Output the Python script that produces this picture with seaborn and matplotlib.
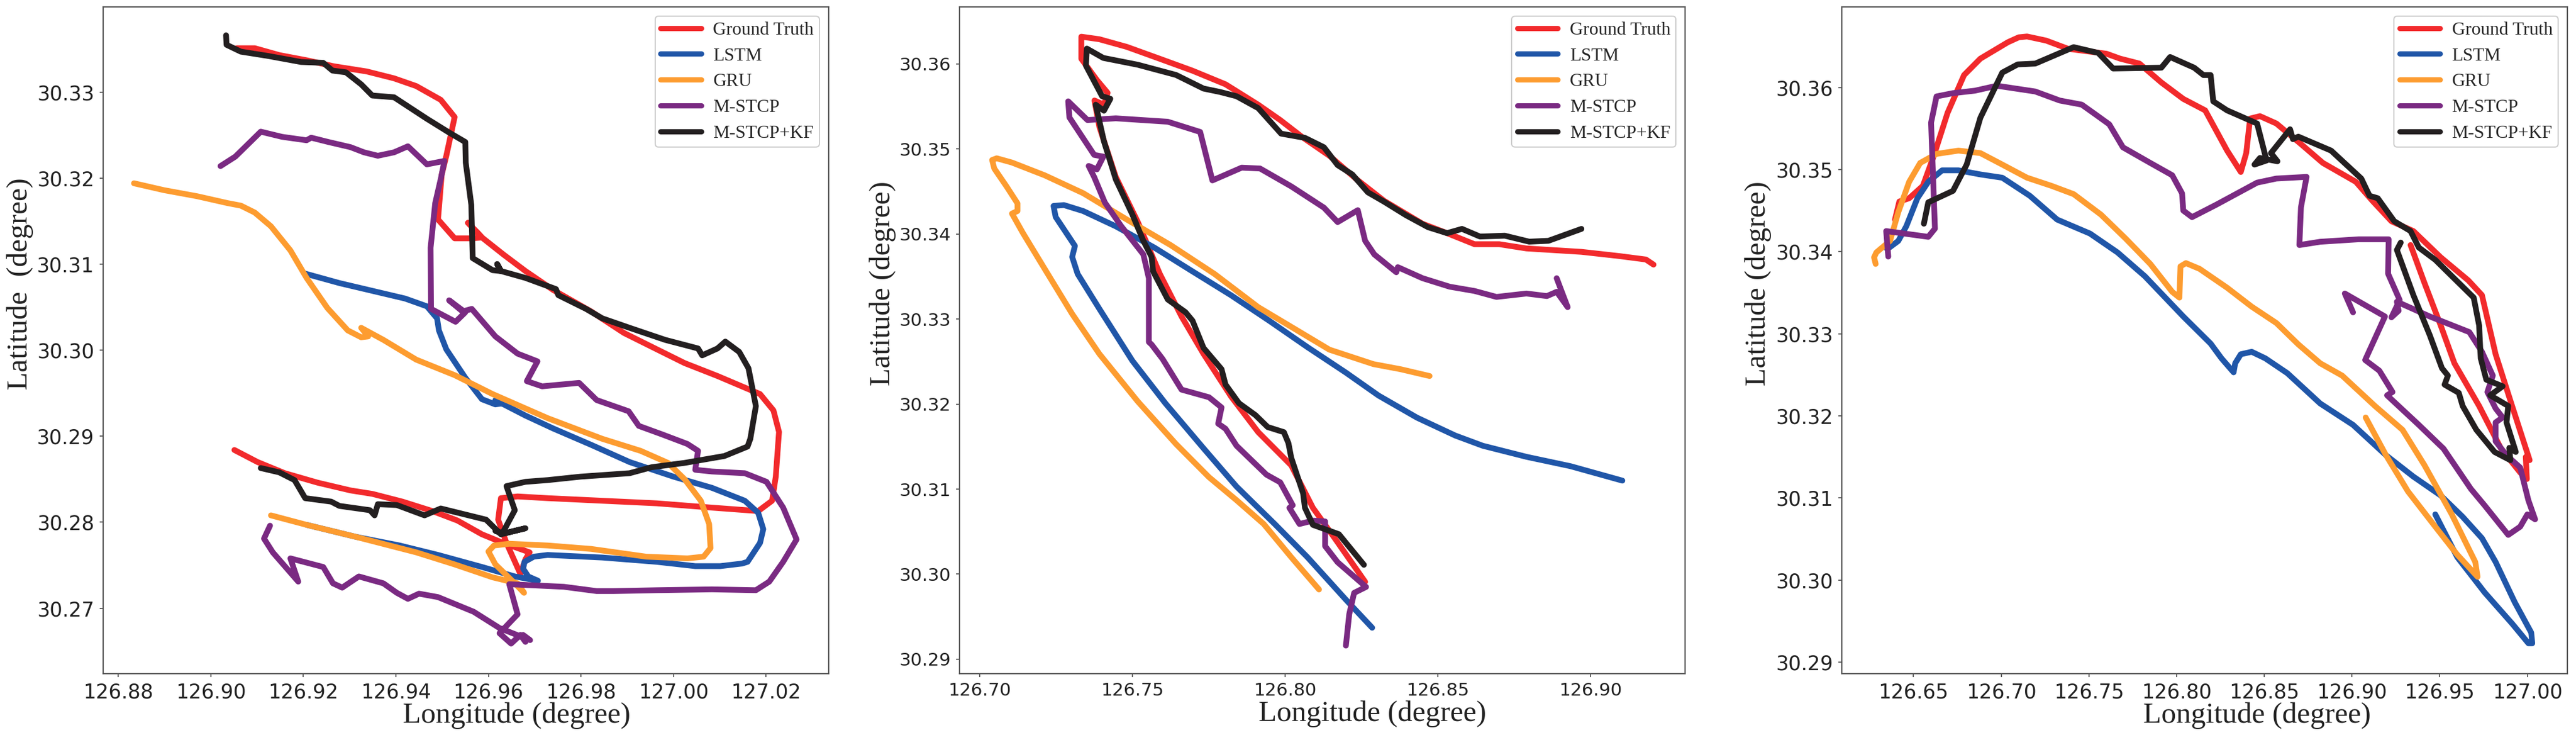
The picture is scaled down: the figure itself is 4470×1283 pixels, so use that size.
from matplotlib import pyplot as plt
from matplotlib.font_manager import FontProperties
import seaborn as sns

# --- left panel ---
p1_truth_lon = [126.9056, 126.9095, 126.9148, 126.9207, 126.9266, 126.9337, 126.9396, 126.9444, 126.9497, 126.9527, 126.9509, 126.9499, 126.9491, 126.9527, 126.9564, 126.9586, 126.9556, 126.9586, 126.9633, 126.9680, 126.9740, 126.9822, 126.9893, 126.9964, 127.0024, 127.0095, 127.0187, 127.0216, 127.0228, 127.0221, 127.0213, 127.0183, 127.0083, 126.9964, 126.9846, 126.9728, 126.9663, 126.9627, 126.9621, 126.9639, 126.9669, 126.9680, 126.9689, 126.9663, 126.9627, 126.9586, 126.9533, 126.9479, 126.9414, 126.9349, 126.9302, 126.9231, 126.9160, 126.9101, 126.9051]
p1_truth_lat = [30.3351, 30.3351, 30.3343, 30.3337, 30.3330, 30.3324, 30.3316, 30.3307, 30.3291, 30.3271, 30.3226, 30.3204, 30.3152, 30.3130, 30.3130, 30.3131, 30.3148, 30.3131, 30.3111, 30.3092, 30.3070, 30.3045, 30.3020, 30.3001, 30.2985, 30.2970, 30.2949, 30.2930, 30.2905, 30.2853, 30.2825, 30.2813, 30.2817, 30.2822, 30.2825, 30.2828, 30.2830, 30.2828, 30.2803, 30.2776, 30.2740, 30.2757, 30.2765, 30.2770, 30.2777, 30.2786, 30.2802, 30.2813, 30.2824, 30.2833, 30.2837, 30.2846, 30.2857, 30.2870, 30.2884]
p1_lstm_lon = [126.9204, 126.9278, 126.9349, 126.9420, 126.9467, 126.9489, 126.9493, 126.9509, 126.9550, 126.9586, 126.9615, 126.9627, 126.9615, 126.9680, 126.9740, 126.9822, 126.9905, 127.0000, 127.0083, 127.0154, 127.0183, 127.0194, 127.0187, 127.0160, 127.0148, 127.0101, 127.0047, 126.9964, 126.9846, 126.9728, 126.9698, 126.9678, 126.9675, 126.9686, 126.9707, 126.9657, 126.9586, 126.9491, 126.9408, 126.9314, 126.9207]
p1_lstm_lat = [30.3089, 30.3078, 30.3069, 30.3060, 30.3051, 30.3037, 30.3023, 30.3001, 30.2968, 30.2943, 30.2937, 30.2938, 30.2942, 30.2924, 30.2909, 30.2890, 30.2870, 30.2853, 30.2840, 30.2825, 30.2811, 30.2792, 30.2776, 30.2754, 30.2752, 30.2749, 30.2749, 30.2754, 30.2759, 30.2762, 30.2760, 30.2754, 30.2746, 30.2737, 30.2732, 30.2737, 30.2748, 30.2762, 30.2773, 30.2783, 30.2797]
p1_gru_lon = [126.8834, 126.8899, 126.8970, 126.9036, 126.9065, 126.9095, 126.9130, 126.9172, 126.9207, 126.9252, 126.9296, 126.9325, 126.9340, 126.9325, 126.9373, 126.9444, 126.9527, 126.9609, 126.9728, 126.9846, 126.9929, 126.9988, 127.0024, 127.0059, 127.0077, 127.0080, 127.0065, 127.0030, 126.9941, 126.9822, 126.9728, 126.9645, 126.9612, 126.9600, 126.9615, 126.9657, 126.9677, 126.9663, 126.9609, 126.9527, 126.9444, 126.9314, 126.9207, 126.9130]
p1_gru_lat = [30.3194, 30.3186, 30.3179, 30.3171, 30.3168, 30.3160, 30.3144, 30.3116, 30.3084, 30.3049, 30.3023, 30.3015, 30.3016, 30.3026, 30.3012, 30.2989, 30.2971, 30.2949, 30.2921, 30.2897, 30.2883, 30.2869, 30.2850, 30.2825, 30.2798, 30.2770, 30.2760, 30.2758, 30.2760, 30.2769, 30.2773, 30.2775, 30.2773, 30.2766, 30.2751, 30.2729, 30.2718, 30.2729, 30.2736, 30.2751, 30.2765, 30.2783, 30.2797, 30.2808]
p1_stcp_lon = [126.9021, 126.9053, 126.9108, 126.9154, 126.9207, 126.9217, 126.9254, 126.9302, 126.9331, 126.9361, 126.9396, 126.9426, 126.9467, 126.9505, 126.9497, 126.9485, 126.9475, 126.9476, 126.9529, 126.9550, 126.9515, 126.9544, 126.9564, 126.9615, 126.9663, 126.9706, 126.9683, 126.9716, 126.9796, 126.9834, 126.9903, 126.9925, 126.9976, 127.0030, 127.0053, 127.0047, 127.0083, 127.0154, 127.0201, 127.0237, 127.0266, 127.0237, 127.0207, 127.0178, 127.0083, 126.9964, 126.9870, 126.9834, 126.9763, 126.9645, 126.9663, 126.9624, 126.9649, 126.9669, 126.9680, 126.9675, 126.9690, 126.9624, 126.9568, 126.9491, 126.9450, 126.9426, 126.9402, 126.9373, 126.9320, 126.9284, 126.9264, 126.9243, 126.9172, 126.9189, 126.9134, 126.9115, 126.9128]
p1_stcp_lat = [30.3214, 30.3225, 30.3254, 30.3248, 30.3244, 30.3247, 30.3242, 30.3236, 30.3230, 30.3226, 30.3230, 30.3237, 30.3216, 30.3220, 30.3199, 30.3171, 30.3119, 30.3048, 30.3033, 30.3044, 30.3058, 30.3045, 30.3048, 30.3016, 30.2996, 30.2987, 30.2964, 30.2958, 30.2962, 30.2942, 30.2929, 30.2912, 30.2902, 30.2891, 30.2883, 30.2861, 30.2859, 30.2857, 30.2847, 30.2817, 30.2780, 30.2754, 30.2731, 30.2721, 30.2722, 30.2721, 30.2720, 30.2720, 30.2725, 30.2728, 30.2693, 30.2671, 30.2659, 30.2669, 30.2661, 30.2669, 30.2663, 30.2677, 30.2696, 30.2713, 30.2717, 30.2711, 30.2718, 30.2729, 30.2737, 30.2724, 30.2729, 30.2748, 30.2758, 30.2731, 30.2765, 30.2781, 30.2796]
p1_kf_lon = [126.9033, 126.9034, 126.9065, 126.9124, 126.9195, 126.9243, 126.9263, 126.9292, 126.9325, 126.9349, 126.9396, 126.9467, 126.9515, 126.9550, 126.9551, 126.9563, 126.9566, 126.9609, 126.9627, 126.9619, 126.9627, 126.9680, 126.9746, 126.9751, 126.9811, 126.9846, 126.9905, 126.9982, 127.0053, 127.0062, 127.0095, 127.0112, 127.0142, 127.0162, 127.0178, 127.0166, 127.0160, 127.0110, 127.0024, 126.9953, 126.9905, 126.9799, 126.9728, 126.9680, 126.9639, 126.9657, 126.9630, 126.9615, 126.9633, 126.9680, 126.9627, 126.9595, 126.9497, 126.9462, 126.9402, 126.9361, 126.9354, 126.9344, 126.9278, 126.9260, 126.9204, 126.9181, 126.9148, 126.9108]
p1_kf_lat = [30.3366, 30.3355, 30.3347, 30.3342, 30.3335, 30.3334, 30.3325, 30.3323, 30.3309, 30.3296, 30.3294, 30.3269, 30.3253, 30.3242, 30.3218, 30.3169, 30.3107, 30.3093, 30.3092, 30.3100, 30.3092, 30.3084, 30.3071, 30.3064, 30.3048, 30.3037, 30.3026, 30.3012, 30.3002, 30.2994, 30.3002, 30.3010, 30.2998, 30.2979, 30.2935, 30.2897, 30.2888, 30.2877, 30.2869, 30.2864, 30.2857, 30.2853, 30.2849, 30.2847, 30.2842, 30.2814, 30.2787, 30.2790, 30.2787, 30.2793, 30.2786, 30.2803, 30.2816, 30.2808, 30.2820, 30.2821, 30.2808, 30.2814, 30.2819, 30.2824, 30.2828, 30.2849, 30.2858, 30.2863]

# --- middle panel ---
p2_truth_lon = [126.9206, 126.9181, 126.9095, 126.8970, 126.8790, 126.8701, 126.8620, 126.8530, 126.8450, 126.8324, 126.8235, 126.8145, 126.8056, 126.7984, 126.7912, 126.7805, 126.7697, 126.7590, 126.7482, 126.7392, 126.7333, 126.7333, 126.7384, 126.7419, 126.7407, 126.7376, 126.7392, 126.7446, 126.7518, 126.7590, 126.7661, 126.7733, 126.7823, 126.7912, 126.8020, 126.8091, 126.8163, 126.8262]
p2_truth_lat = [30.3364, 30.3370, 30.3374, 30.3379, 30.3383, 30.3388, 30.3388, 30.3401, 30.3412, 30.3439, 30.3464, 30.3492, 30.3514, 30.3534, 30.3552, 30.3576, 30.3592, 30.3606, 30.3620, 30.3629, 30.3632, 30.3606, 30.3581, 30.3566, 30.3552, 30.3557, 30.3526, 30.3467, 30.3414, 30.3353, 30.3303, 30.3259, 30.3209, 30.3167, 30.3128, 30.3078, 30.3042, 30.2991]
p2_lstm_lon = [126.8285, 126.8199, 126.8073, 126.7966, 126.7841, 126.7733, 126.7608, 126.7500, 126.7392, 126.7321, 126.7303, 126.7312, 126.7249, 126.7242, 126.7276, 126.7339, 126.7446, 126.7572, 126.7697, 126.7823, 126.7948, 126.8073, 126.8199, 126.8306, 126.8432, 126.8557, 126.8647, 126.8790, 126.8934, 126.9104]
p2_lstm_lat = [30.2937, 30.2970, 30.3020, 30.3059, 30.3103, 30.3148, 30.3201, 30.3251, 30.3312, 30.3353, 30.3373, 30.3386, 30.3420, 30.3433, 30.3434, 30.3427, 30.3409, 30.3384, 30.3356, 30.3328, 30.3298, 30.3267, 30.3237, 30.3210, 30.3184, 30.3163, 30.3151, 30.3138, 30.3127, 30.3110]
p2_gru_lon = [126.8111, 126.8020, 126.7930, 126.7841, 126.7751, 126.7643, 126.7518, 126.7392, 126.7303, 126.7213, 126.7142, 126.7106, 126.7124, 126.7124, 126.7088, 126.7048, 126.7041, 126.7056, 126.7106, 126.7213, 126.7339, 126.7482, 126.7625, 126.7769, 126.7912, 126.8038, 126.8145, 126.8289, 126.8378, 126.8473]
p2_gru_lat = [30.2982, 30.3020, 30.3059, 30.3087, 30.3114, 30.3153, 30.3203, 30.3259, 30.3306, 30.3359, 30.3401, 30.3424, 30.3427, 30.3436, 30.3456, 30.3477, 30.3487, 30.3489, 30.3484, 30.3469, 30.3448, 30.3417, 30.3387, 30.3353, 30.3314, 30.3287, 30.3264, 30.3247, 30.3241, 30.3233]
p2_stcp_lon = [126.8199, 126.8210, 126.8226, 126.8265, 126.8172, 126.8131, 126.8131, 126.8091, 126.8047, 126.8014, 126.8025, 126.7984, 126.7939, 126.7841, 126.7805, 126.7781, 126.7792, 126.7751, 126.7661, 126.7599, 126.7563, 126.7554, 126.7554, 126.7536, 126.7464, 126.7410, 126.7375, 126.7357, 126.7384, 126.7405, 126.7375, 126.7294, 126.7290, 126.7353, 126.7446, 126.7616, 126.7722, 126.7762, 126.7858, 126.7918, 126.8020, 126.8127, 126.8172, 126.8238, 126.8262, 126.8292, 126.8364, 126.8369, 126.8450, 126.8539, 126.8620, 126.8692, 126.8790, 126.8857, 126.8889, 126.8925, 126.8910, 126.8889]
p2_stcp_lat = [30.2916, 30.2953, 30.2978, 30.2985, 30.3014, 30.3033, 30.3062, 30.3063, 30.3059, 30.3078, 30.3081, 30.3108, 30.3117, 30.3151, 30.3171, 30.3177, 30.3196, 30.3208, 30.3217, 30.3253, 30.3270, 30.3273, 30.3348, 30.3376, 30.3409, 30.3437, 30.3467, 30.3480, 30.3476, 30.3491, 30.3493, 30.3537, 30.3556, 30.3534, 30.3536, 30.3532, 30.3520, 30.3463, 30.3478, 30.3477, 30.3456, 30.3431, 30.3414, 30.3428, 30.3392, 30.3376, 30.3355, 30.3361, 30.3348, 30.3338, 30.3333, 30.3326, 30.3330, 30.3327, 30.3332, 30.3314, 30.3328, 30.3348]
p2_kf_lon = [126.8258, 126.8176, 126.8091, 126.8065, 126.8059, 126.8020, 126.8011, 126.7996, 126.7943, 126.7903, 126.7849, 126.7805, 126.7792, 126.7733, 126.7697, 126.7674, 126.7616, 126.7568, 126.7563, 126.7536, 126.7500, 126.7446, 126.7407, 126.7380, 126.7407, 126.7428, 126.7401, 126.7348, 126.7351, 126.7405, 126.7518, 126.7643, 126.7733, 126.7787, 126.7841, 126.7912, 126.7987, 126.8065, 126.8127, 126.8172, 126.8220, 126.8271, 126.8324, 126.8396, 126.8468, 126.8530, 126.8579, 126.8638, 126.8719, 126.8799, 126.8862, 126.8970]
p2_kf_lat = [30.3011, 30.3047, 30.3058, 30.3078, 30.3095, 30.3137, 30.3154, 30.3167, 30.3173, 30.3187, 30.3201, 30.3223, 30.3241, 30.3266, 30.3298, 30.3308, 30.3323, 30.3356, 30.3373, 30.3392, 30.3423, 30.3464, 30.3509, 30.3552, 30.3545, 30.3559, 30.3562, 30.3598, 30.3618, 30.3607, 30.3599, 30.3587, 30.3571, 30.3567, 30.3562, 30.3548, 30.3518, 30.3513, 30.3502, 30.3481, 30.3470, 30.3449, 30.3438, 30.3422, 30.3408, 30.3401, 30.3406, 30.3397, 30.3398, 30.3391, 30.3392, 30.3406]

# --- right panel ---
p3_truth_lon = [126.6394, 126.6419, 126.6475, 126.6553, 126.6616, 126.6694, 126.6788, 126.6881, 126.7038, 126.7100, 126.7147, 126.7256, 126.7381, 126.7600, 126.7678, 126.7788, 126.7913, 126.8038, 126.8163, 126.8288, 126.8366, 126.8397, 126.8419, 126.8475, 126.8569, 126.8709, 126.8834, 126.9022, 126.9116, 126.9225, 126.9350, 126.9506, 126.9663, 126.9741, 126.9819, 126.9913, 127.0013, 126.9991, 126.9997, 126.9959, 126.9850, 126.9725, 126.9584, 126.9506, 126.9413, 126.9334]
p3_truth_lat = [30.3439, 30.3461, 30.3465, 30.3480, 30.3517, 30.3569, 30.3615, 30.3635, 30.3655, 30.3661, 30.3662, 30.3657, 30.3647, 30.3641, 30.3635, 30.3629, 30.3606, 30.3586, 30.3572, 30.3523, 30.3497, 30.3520, 30.3562, 30.3565, 30.3556, 30.3531, 30.3508, 30.3485, 30.3462, 30.3437, 30.3425, 30.3393, 30.3365, 30.3347, 30.3275, 30.3212, 30.3146, 30.3150, 30.3123, 30.3131, 30.3160, 30.3212, 30.3264, 30.3310, 30.3362, 30.3408]
p3_lstm_lon = [126.9475, 126.9600, 126.9756, 126.9913, 127.0006, 127.0028, 127.0022, 126.9928, 126.9819, 126.9741, 126.9631, 126.9506, 126.9350, 126.9194, 126.9006, 126.8819, 126.8631, 126.8506, 126.8428, 126.8366, 126.8334, 126.8325, 126.8256, 126.8194, 126.8038, 126.7819, 126.7663, 126.7506, 126.7319, 126.7163, 126.7006, 126.6881, 126.6756, 126.6663, 126.6584, 126.6522, 126.6459, 126.6413, 126.6350]
p3_lstm_lat = [30.3080, 30.3028, 30.2985, 30.2947, 30.2923, 30.2923, 30.2936, 30.2973, 30.3022, 30.3051, 30.3077, 30.3103, 30.3126, 30.3152, 30.3189, 30.3215, 30.3252, 30.3270, 30.3278, 30.3275, 30.3264, 30.3253, 30.3270, 30.3288, 30.3321, 30.3370, 30.3399, 30.3422, 30.3439, 30.3468, 30.3490, 30.3494, 30.3499, 30.3499, 30.3485, 30.3465, 30.3431, 30.3413, 30.3403]
p3_gru_lon = [126.9078, 126.9194, 126.9319, 126.9475, 126.9600, 126.9716, 126.9703, 126.9569, 126.9413, 126.9288, 126.9131, 126.8944, 126.8819, 126.8694, 126.8569, 126.8428, 126.8288, 126.8131, 126.8053, 126.8022, 126.8016, 126.7975, 126.7850, 126.7709, 126.7569, 126.7413, 126.7288, 126.7147, 126.7006, 126.6881, 126.6756, 126.6631, 126.6538, 126.6475, 126.6413, 126.6366, 126.6288, 126.6275, 126.6284]
p3_gru_lat = [30.3198, 30.3152, 30.3108, 30.3065, 30.3031, 30.3004, 30.3022, 30.3080, 30.3140, 30.3183, 30.3212, 30.3249, 30.3264, 30.3287, 30.3313, 30.3333, 30.3356, 30.3379, 30.3386, 30.3382, 30.3344, 30.3351, 30.3385, 30.3416, 30.3445, 30.3470, 30.3480, 30.3490, 30.3506, 30.3520, 30.3523, 30.3519, 30.3508, 30.3485, 30.3448, 30.3413, 30.3399, 30.3393, 30.3385]
p3_stcp_lon = [126.6356, 126.6344, 126.6584, 126.6622, 126.6600, 126.6631, 126.6725, 126.6850, 126.6975, 126.7194, 126.7334, 126.7459, 126.7538, 126.7616, 126.7694, 126.7850, 126.7975, 126.8031, 126.8038, 126.8088, 126.8225, 126.8459, 126.8569, 126.8741, 126.8709, 126.8700, 126.8819, 126.9038, 126.9209, 126.9206, 126.9272, 126.9225, 126.9266, 126.9256, 126.9444, 126.9669, 126.9741, 126.9803, 126.9772, 126.9819, 126.9859, 126.9819, 126.9819, 126.9881, 126.9959, 127.0006, 127.0044, 127.0000, 126.9959, 126.9891, 126.9756, 126.9678, 126.9522, 126.9381, 126.9200, 126.9231, 126.9156, 126.9075, 126.9188, 126.8959, 126.9006]
p3_stcp_lat = [30.3394, 30.3425, 30.3418, 30.3428, 30.3557, 30.3589, 30.3593, 30.3596, 30.3602, 30.3595, 30.3584, 30.3579, 30.3567, 30.3555, 30.3527, 30.3508, 30.3493, 30.3471, 30.3450, 30.3442, 30.3457, 30.3484, 30.3489, 30.3491, 30.3454, 30.3408, 30.3412, 30.3415, 30.3415, 30.3373, 30.3341, 30.3320, 30.3328, 30.3339, 30.3321, 30.3302, 30.3278, 30.3249, 30.3229, 30.3209, 30.3198, 30.3192, 30.3169, 30.3152, 30.3137, 30.3097, 30.3074, 30.3080, 30.3065, 30.3055, 30.3091, 30.3111, 30.3160, 30.3189, 30.3225, 30.3229, 30.3255, 30.3268, 30.3321, 30.3349, 30.3326]
p3_kf_lon = [126.6559, 126.6584, 126.6725, 126.6803, 126.6881, 126.7006, 126.7094, 126.7194, 126.7413, 126.7553, 126.7638, 126.7913, 126.7963, 126.8100, 126.8153, 126.8194, 126.8209, 126.8288, 126.8459, 126.8513, 126.8444, 126.8475, 126.8575, 126.8538, 126.8647, 126.8663, 126.8694, 126.8881, 126.9053, 126.9100, 126.9147, 126.9241, 126.9334, 126.9381, 126.9475, 126.9694, 126.9725, 126.9734, 126.9766, 126.9859, 126.9788, 126.9891, 126.9881, 126.9934, 126.9897, 126.9903, 126.9813, 126.9709, 126.9631, 126.9609, 126.9528, 126.9547, 126.9513, 126.9444, 126.9350, 126.9256, 126.9278]
p3_kf_lat = [30.3434, 30.3460, 30.3474, 30.3506, 30.3563, 30.3618, 30.3628, 30.3629, 30.3649, 30.3642, 30.3623, 30.3624, 30.3637, 30.3624, 30.3615, 30.3615, 30.3583, 30.3572, 30.3556, 30.3511, 30.3506, 30.3514, 30.3510, 30.3520, 30.3549, 30.3537, 30.3540, 30.3523, 30.3489, 30.3468, 30.3465, 30.3437, 30.3425, 30.3405, 30.3390, 30.3344, 30.3310, 30.3270, 30.3244, 30.3236, 30.3225, 30.3212, 30.3192, 30.3156, 30.3161, 30.3146, 30.3156, 30.3183, 30.3212, 30.3228, 30.3238, 30.3249, 30.3258, 30.3298, 30.3347, 30.3402, 30.3411]

series_names = ['Ground Truth', 'LSTM', 'GRU', 'M-STCP', 'M-STCP+KF']
series_colors = ['#f22a2c', '#2056a8', '#fd9c30', '#7a2a82', '#231f20']

p1_xticks = [126.88, 126.90, 126.92, 126.94, 126.96, 126.98, 127.00, 127.02]
p1_yticks = [30.27, 30.28, 30.29, 30.30, 30.31, 30.32, 30.33]
p2_xticks = [126.70, 126.75, 126.80, 126.85, 126.90]
p2_yticks = [30.29, 30.30, 30.31, 30.32, 30.33, 30.34, 30.35, 30.36]
p3_xticks = [126.65, 126.70, 126.75, 126.80, 126.85, 126.90, 126.95, 127.00]
p3_yticks = [30.29, 30.30, 30.31, 30.32, 30.33, 30.34, 30.35, 30.36]

panels = [
    dict(lons=[p1_truth_lon, p1_lstm_lon, p1_gru_lon, p1_stcp_lon, p1_kf_lon],
         lats=[p1_truth_lat, p1_lstm_lat, p1_gru_lat, p1_stcp_lat, p1_kf_lat],
         xticks=p1_xticks, yticks=p1_yticks, xlim=(126.8767, 127.0335), ylim=(30.2624, 30.3399),
         left=178.7, tick_size=25, ylabel='Latitude  (degree)', xlabel_pos=(0.570, -0.063), ylabel_x=-0.114),
    dict(lons=[p2_truth_lon, p2_lstm_lon, p2_gru_lon, p2_stcp_lon, p2_kf_lon],
         lats=[p2_truth_lat, p2_lstm_lat, p2_gru_lat, p2_stcp_lat, p2_kf_lat],
         xticks=p2_xticks, yticks=p2_yticks, xlim=(126.6935, 126.9310), ylim=(30.2883, 30.3667),
         left=1665.4, tick_size=22.5, ylabel='Latitude (degree)', xlabel_pos=(0.569, -0.060), ylabel_x=-0.106),
    dict(lons=[p3_truth_lon, p3_lstm_lon, p3_gru_lon, p3_stcp_lon, p3_kf_lon],
         lats=[p3_truth_lat, p3_lstm_lat, p3_gru_lat, p3_stcp_lat, p3_kf_lat],
         xticks=p3_xticks, yticks=p3_yticks, xlim=(126.6091, 127.0228), ylim=(30.2886, 30.3698),
         left=3196, tick_size=25, ylabel='Latitude (degree)', xlabel_pos=(0.572, -0.063), ylabel_x=-0.115),
]

sns.set_theme(style="ticks")
plt.rcParams['font.family'] = ['DejaVu Sans']

fig_w, fig_h = 4470, 1283
fig = plt.figure(figsize=(fig_w / 100, fig_h / 100), dpi=100)
serif = 'Liberation Serif'

for panel in panels:
    ax = fig.add_axes([panel['left'] / fig_w, (fig_h - 1168) / fig_h, 1259 / fig_w, 1156 / fig_h])
    for lon, lat, name, color in zip(panel['lons'], panel['lats'], series_names, series_colors):
        sns.lineplot(x=lon, y=lat, sort=False, estimator=None, color=color, linewidth=7.2,
                     label=name, ax=ax, solid_capstyle='round', solid_joinstyle='round')

    ax.set_xlim(panel['xlim'])
    ax.set_ylim(panel['ylim'])
    ax.set_xticks(panel['xticks'])
    ax.set_yticks(panel['yticks'])
    ax.set_xticklabels([f'{t:.2f}' for t in panel['xticks']])
    ax.set_yticklabels([f'{t:.2f}' for t in panel['yticks']])
    ax.tick_params(axis='both', labelsize=panel['tick_size'], length=4, width=1.2, color='#444444',
                   labelcolor='#222222', pad=7)
    for spine in ax.spines.values():
        spine.set_color('#555555')
        spine.set_linewidth(1.6)

    ax.set_xlabel('Longitude (degree)', family=serif, fontsize=37, color='#222222', va='center')
    ax.xaxis.set_label_coords(*panel['xlabel_pos'])
    ax.set_ylabel(panel['ylabel'], family=serif, fontsize=37, color='#222222', va='center')
    ax.yaxis.set_label_coords(panel['ylabel_x'], 0.585)

    legend = ax.legend(loc='upper right', prop=FontProperties(family=serif, size=23), handlelength=2.2,
                       handletextpad=0.65, labelspacing=0.48, borderpad=0.3, borderaxespad=0.5,
                       edgecolor='#cccccc', framealpha=1)
    legend.get_frame().set_linewidth(1.5)
    for handle in legend.get_lines():
        handle.set_linewidth(6.5)

fig.savefig('out.png', dpi=100)
plt.close(fig)
